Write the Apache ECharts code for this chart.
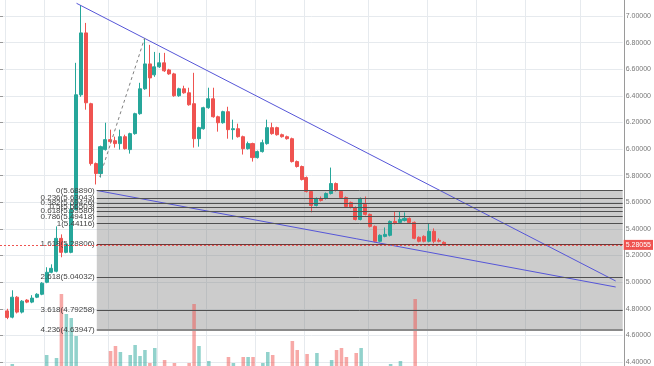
<!DOCTYPE html>
<html><head><meta charset="utf-8">
<script src="https://cdn.jsdelivr.net/npm/echarts@6/dist/echarts.min.js"></script>
<style>html,body{margin:0;padding:0;background:#fff}#c{width:654px;height:366px}</style>
</head><body><div id="c"></div>
<script>
// ---- data ----
const opens  = [4.784,4.737,4.887,4.775,4.865,4.850,4.887,4.909,4.999,5.074,
5.082,5.329,5.224,5.224,5.546,6.408,6.873,6.341,5.891,5.816,
5.996,6.071,6.063,6.041,6.093,5.996,6.116,6.266,6.453,6.640,
6.558,6.618,6.648,6.595,6.565,6.401,6.453,6.423,6.341,6.078,
6.153,6.311,6.378,6.243,6.198,6.281,6.146,6.153,6.093,6.003,
6.041,5.936,5.981,6.041,6.161,6.161,6.108,6.093,6.078,5.906,
5.869,5.786,5.681,5.576,5.629,5.629,5.666,5.741,5.681,5.636,
5.599,5.561,5.471,5.584,5.509,5.419,5.307,5.344,5.352,5.456,
5.449,5.464,5.479,5.449,5.337,5.344,5.307,5.382,5.314,5.299];
const closes = [4.735,4.887,4.775,4.857,4.850,4.880,4.909,4.992,5.074,5.104,
5.329,5.224,5.284,5.546,6.408,6.873,6.348,5.891,5.816,6.018,
6.071,6.056,6.041,6.093,6.003,6.116,6.266,6.453,6.640,6.535,
6.618,6.648,6.588,6.565,6.401,6.453,6.423,6.333,6.078,6.161,
6.311,6.378,6.243,6.198,6.281,6.146,6.153,6.093,6.003,6.041,
5.936,5.981,6.048,6.161,6.116,6.108,6.093,6.078,5.906,5.869,
5.771,5.681,5.576,5.629,5.614,5.666,5.741,5.689,5.636,5.569,
5.561,5.471,5.629,5.509,5.419,5.307,5.352,5.359,5.456,5.441,
5.471,5.479,5.449,5.329,5.307,5.307,5.382,5.307,5.307,5.281];
const lows   = [4.722,4.728,4.765,4.765,4.842,4.842,4.880,4.902,4.992,5.067,
5.074,5.187,5.217,5.217,5.539,6.393,6.296,5.876,5.734,5.786,
5.989,6.041,6.011,5.996,5.996,5.966,6.108,6.258,6.445,6.393,
6.543,6.610,6.580,6.558,6.393,6.393,6.416,6.326,6.011,6.018,
6.146,6.303,6.236,6.131,6.191,6.078,6.071,6.086,5.959,5.996,
5.906,5.929,5.974,6.033,6.108,6.101,6.086,6.071,5.899,5.861,
5.764,5.674,5.524,5.569,5.606,5.621,5.659,5.681,5.629,5.561,
5.554,5.464,5.464,5.501,5.411,5.299,5.299,5.337,5.344,5.434,
5.441,5.456,5.441,5.322,5.299,5.299,5.299,5.292,5.299,5.276];
const highs  = [4.800,4.939,4.895,4.865,4.872,4.902,4.917,5.000,5.112,5.134,
5.419,5.359,5.292,5.599,6.648,7.082,6.948,6.348,5.899,6.026,
6.198,6.146,6.093,6.146,6.108,6.123,6.273,6.498,6.835,6.783,
6.730,6.723,6.723,6.603,6.573,6.461,6.476,6.461,6.573,6.168,
6.318,6.461,6.461,6.251,6.288,6.318,6.221,6.191,6.101,6.056,
6.048,5.989,6.071,6.221,6.198,6.168,6.116,6.101,6.086,5.914,
5.876,5.794,5.689,5.636,5.644,5.674,5.861,5.749,5.689,5.644,
5.606,5.569,5.636,5.644,5.516,5.426,5.359,5.411,5.464,5.531,
5.531,5.524,5.486,5.456,5.344,5.352,5.441,5.404,5.329,5.307];
const volumes = [0,40,0,0,0,0,0,0,220,0,
160,1440,1040,960,600,0,0,0,0,0,
0,300,400,280,0,220,420,200,320,60,
360,0,120,0,60,0,0,60,1240,400,
0,100,0,0,0,180,60,0,180,180,
180,0,60,280,220,0,0,0,500,320,
0,240,0,260,0,0,120,320,360,180,
0,260,360,0,0,0,0,0,40,0,
100,0,0,1340,0,0,0,0,0,0];
const lastPrice = 5.28055;
const fibRatios = [0,0.236,0.382,0.5,0.618,0.786,1,1.618,2.618,3.618,4.236];
const fibPrices = [5.68890,5.63043,5.59426,5.56503,5.53580,5.49418,5.44116,5.28806,5.04032,4.79258,4.63947];
const yTicksMin = 4.4, yTicksMax = 7.0, yStep = 0.2;
// trend lines in slot units (x) and price (y)
const upperTrend = [[15.61, 7.0954],[125.57, 5.0087]];
const lowerTrend = [[19.74, 5.6889],[125.57, 4.9636]];
const swingLine  = [[20.35, 5.7902],[29.51, 6.8347]];
const fibStart = 19.74;
const slotCount = 127;         // time slots across the plot
const firstSlot = 1;           // slot of the first candle
const timeGridSlots = [1, 9, 22, 32, 42, 52, 62, 75, 87, 97, 107, 118];

// ---- build ----
const cats = [];
for (let i = 0; i < slotCount; i++) cats.push('t' + i);
const ohlc = [], vol = [];
for (let i = 0; i < slotCount; i++) {
  const k = i - firstSlot;
  if (k >= 0 && k < opens.length) {
    ohlc.push([opens[k], closes[k], lows[k], highs[k]]);
    const up = closes[k] >= opens[k];
    vol.push({value: volumes[k], itemStyle: {color: up ? 'rgba(38,166,154,0.5)' : 'rgba(239,83,80,0.5)'}});
  } else { ohlc.push('-'); vol.push('-'); }
}
const gridSet = new Set(timeGridSlots);
const GREEN = '#26a69a', RED = '#ef5350', FONT = 'Liberation Sans, Arial, sans-serif';
const fibLines = fibRatios.map((r, i) => {
  const last = i === fibRatios.length - 1;
  return [
    {coord: [fibStart, fibPrices[i]], label: {formatter: r + '(' + fibPrices[i].toFixed(5) + ')'},
     lineStyle: last ? {color: '#8a8a8a', width: 2, type: 'solid'}
                     : (r === 1.618 ? {color: '#6b3a3a', width: 1, type: 'solid'} : {color: '#505050', width: 1, type: 'solid'})},
    {coord: [slotCount, fibPrices[i]]}
  ];
});

const chart = echarts.init(document.getElementById('c'), null, {renderer: 'canvas'});
chart.setOption({
  animation: false,
  backgroundColor: '#fff',
  textStyle: {fontFamily: FONT},
  grid: [
    {left: 0, right: 30, top: 16, bottom: 4},
    {left: 0, right: 30, top: 0, bottom: 0}
  ],
  xAxis: [
    {type: 'category', data: cats, gridIndex: 0, show: false},
    {type: 'value', gridIndex: 0, min: 0, max: slotCount, show: false},
    {type: 'category', data: cats, gridIndex: 1, axisLine: {show: false}, axisTick: {show: false}, axisLabel: {show: false},
     splitLine: {show: true, interval: (idx) => gridSet.has(idx), lineStyle: {color: '#e6eaee', width: 1}}}
  ],
  yAxis: [
    {type: 'value', gridIndex: 0, position: 'right', min: yTicksMin, max: yTicksMax, interval: yStep,
     axisLine: {show: false}, axisTick: {show: true, length: 3, lineStyle: {color: '#999'}},
     axisLabel: {fontSize: 7, color: '#777', margin: 3, formatter: v => v.toFixed(5), fontFamily: FONT},
     splitLine: {show: true, lineStyle: {color: '#e6eaee', width: 1}}},
    {type: 'value', gridIndex: 1, position: 'right', min: 0, max: 7320, axisLine: {show: true, lineStyle: {color: '#9a9a9a'}},
     axisTick: {show: false}, axisLabel: {show: false}, splitLine: {show: false}}
  ],
  series: [
    {type: 'bar', xAxisIndex: 2, yAxisIndex: 1, data: vol, barWidth: '72%', z: 1, silent: true},
    {type: 'candlestick', xAxisIndex: 0, yAxisIndex: 0, data: ohlc, barWidth: '72%', clip: false, z: 2,
     itemStyle: {color: GREEN, color0: RED, borderColor: GREEN, borderColor0: RED, borderWidth: 1},
     markLine: {symbol: 'none', silent: true, z: 6,
       lineStyle: {color: RED, type: [2, 2], width: 1},
       label: {show: true, position: 'end', distance: 1, formatter: lastPrice.toFixed(5), backgroundColor: RED,
               color: '#fff', fontSize: 7, padding: [2, 2, 1, 2], fontFamily: FONT},
       data: [{yAxis: lastPrice}]}},
    {type: 'line', xAxisIndex: 1, yAxisIndex: 0, data: upperTrend, symbol: 'none', clip: false, z: 4,
     lineStyle: {color: '#5656d8', width: 1}, silent: true,
     markArea: {silent: true, itemStyle: {color: 'rgba(120,120,120,0.38)'},
       data: [[{coord: [fibStart, fibPrices[0]]}, {coord: [slotCount, fibPrices[fibPrices.length - 1]]}]]},
     markLine: {symbol: 'none', silent: true,
       lineStyle: {type: 'solid', color: '#505050', width: 1},
       label: {show: true, position: 'start', distance: 2, fontSize: 8, color: '#444', fontFamily: FONT},
       data: fibLines}},
    {type: 'line', xAxisIndex: 1, yAxisIndex: 0, data: lowerTrend, symbol: 'none', clip: false, z: 4,
     lineStyle: {color: '#5656d8', width: 1}, silent: true},
    {type: 'line', xAxisIndex: 1, yAxisIndex: 0, data: swingLine, symbol: 'none', clip: false, z: 4,
     lineStyle: {color: '#808080', width: 1, type: [3, 3]}, silent: true}
  ]
});
</script></body></html>
